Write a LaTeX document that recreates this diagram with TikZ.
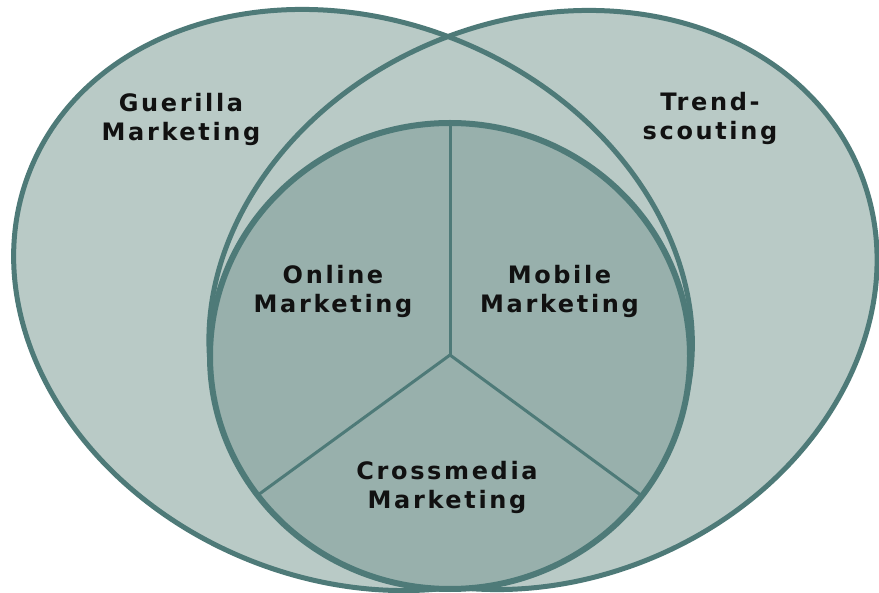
\documentclass[tikz,border=0pt]{standalone}
\usepackage{fontspec}
\newfontfamily\lblfont{DejaVu Sans}[LetterSpace=11]
\definecolor{lightfill}{HTML}{B9CAC6}
\definecolor{innerfill}{HTML}{98B0AC}
\definecolor{edgecol}{HTML}{4E7A78}
\definecolor{txtcol}{HTML}{111111}
\tikzset{
  outerline/.style={draw=edgecol, line width=5pt},
  innerline/.style={draw=edgecol, line width=6pt},
  divline/.style={draw=edgecol, line width=3pt},
  lbl/.style={font=\lblfont\bfseries\fontsize{24}{29}\selectfont, text=txtcol, align=center, inner sep=0pt}
}
\begin{document}
\begin{tikzpicture}[x=1pt,y=-1pt]
\useasboundingbox (0,0) rectangle (879,593);
\fill[white] (0,0) rectangle (879,593);
% fills of the two large lobes
\fill[lightfill, shift={(353,300)}, rotate=-22] (0,0) ellipse [x radius=348, y radius=280];
\fill[lightfill, shift={(543,300)}, rotate=22] (0,0) ellipse [x radius=342, y radius=280];
% outlines of the two lobes
\path[outerline, shift={(353,300)}, rotate=-22] (0,0) ellipse [x radius=348, y radius=280];
\path[outerline, shift={(543,300)}, rotate=22] (0,0) ellipse [x radius=342, y radius=280];
% inner circle
\fill[innerfill] (450,356) ellipse [x radius=240, y radius=233];
\coordinate (ctop) at (450,123);
\coordinate (cmid) at (450,355);
\coordinate (cleft) at (258,495);
\coordinate (cright) at (642,496);
\draw[divline] (ctop) -- (cmid);
\draw[divline] (cmid) -- (cleft);
\draw[divline] (cmid) -- (cright);
\path[innerline] (450,356) ellipse [x radius=240, y radius=233];
% labels
\node[lbl] (guer) at (181,119.4) {Guerilla\\Marketing};
\node[lbl] (trend) at (710,118) {Trend-\\scouting};
\node[lbl] (online) at (333,291.4) {Online\\Marketing};
\node[lbl] (mobile) at (559.5,291.4) {Mobile\\Marketing};
\node[lbl] (cross) at (447,487.6) {Crossmedia\\Marketing};
\end{tikzpicture}
\end{document}
